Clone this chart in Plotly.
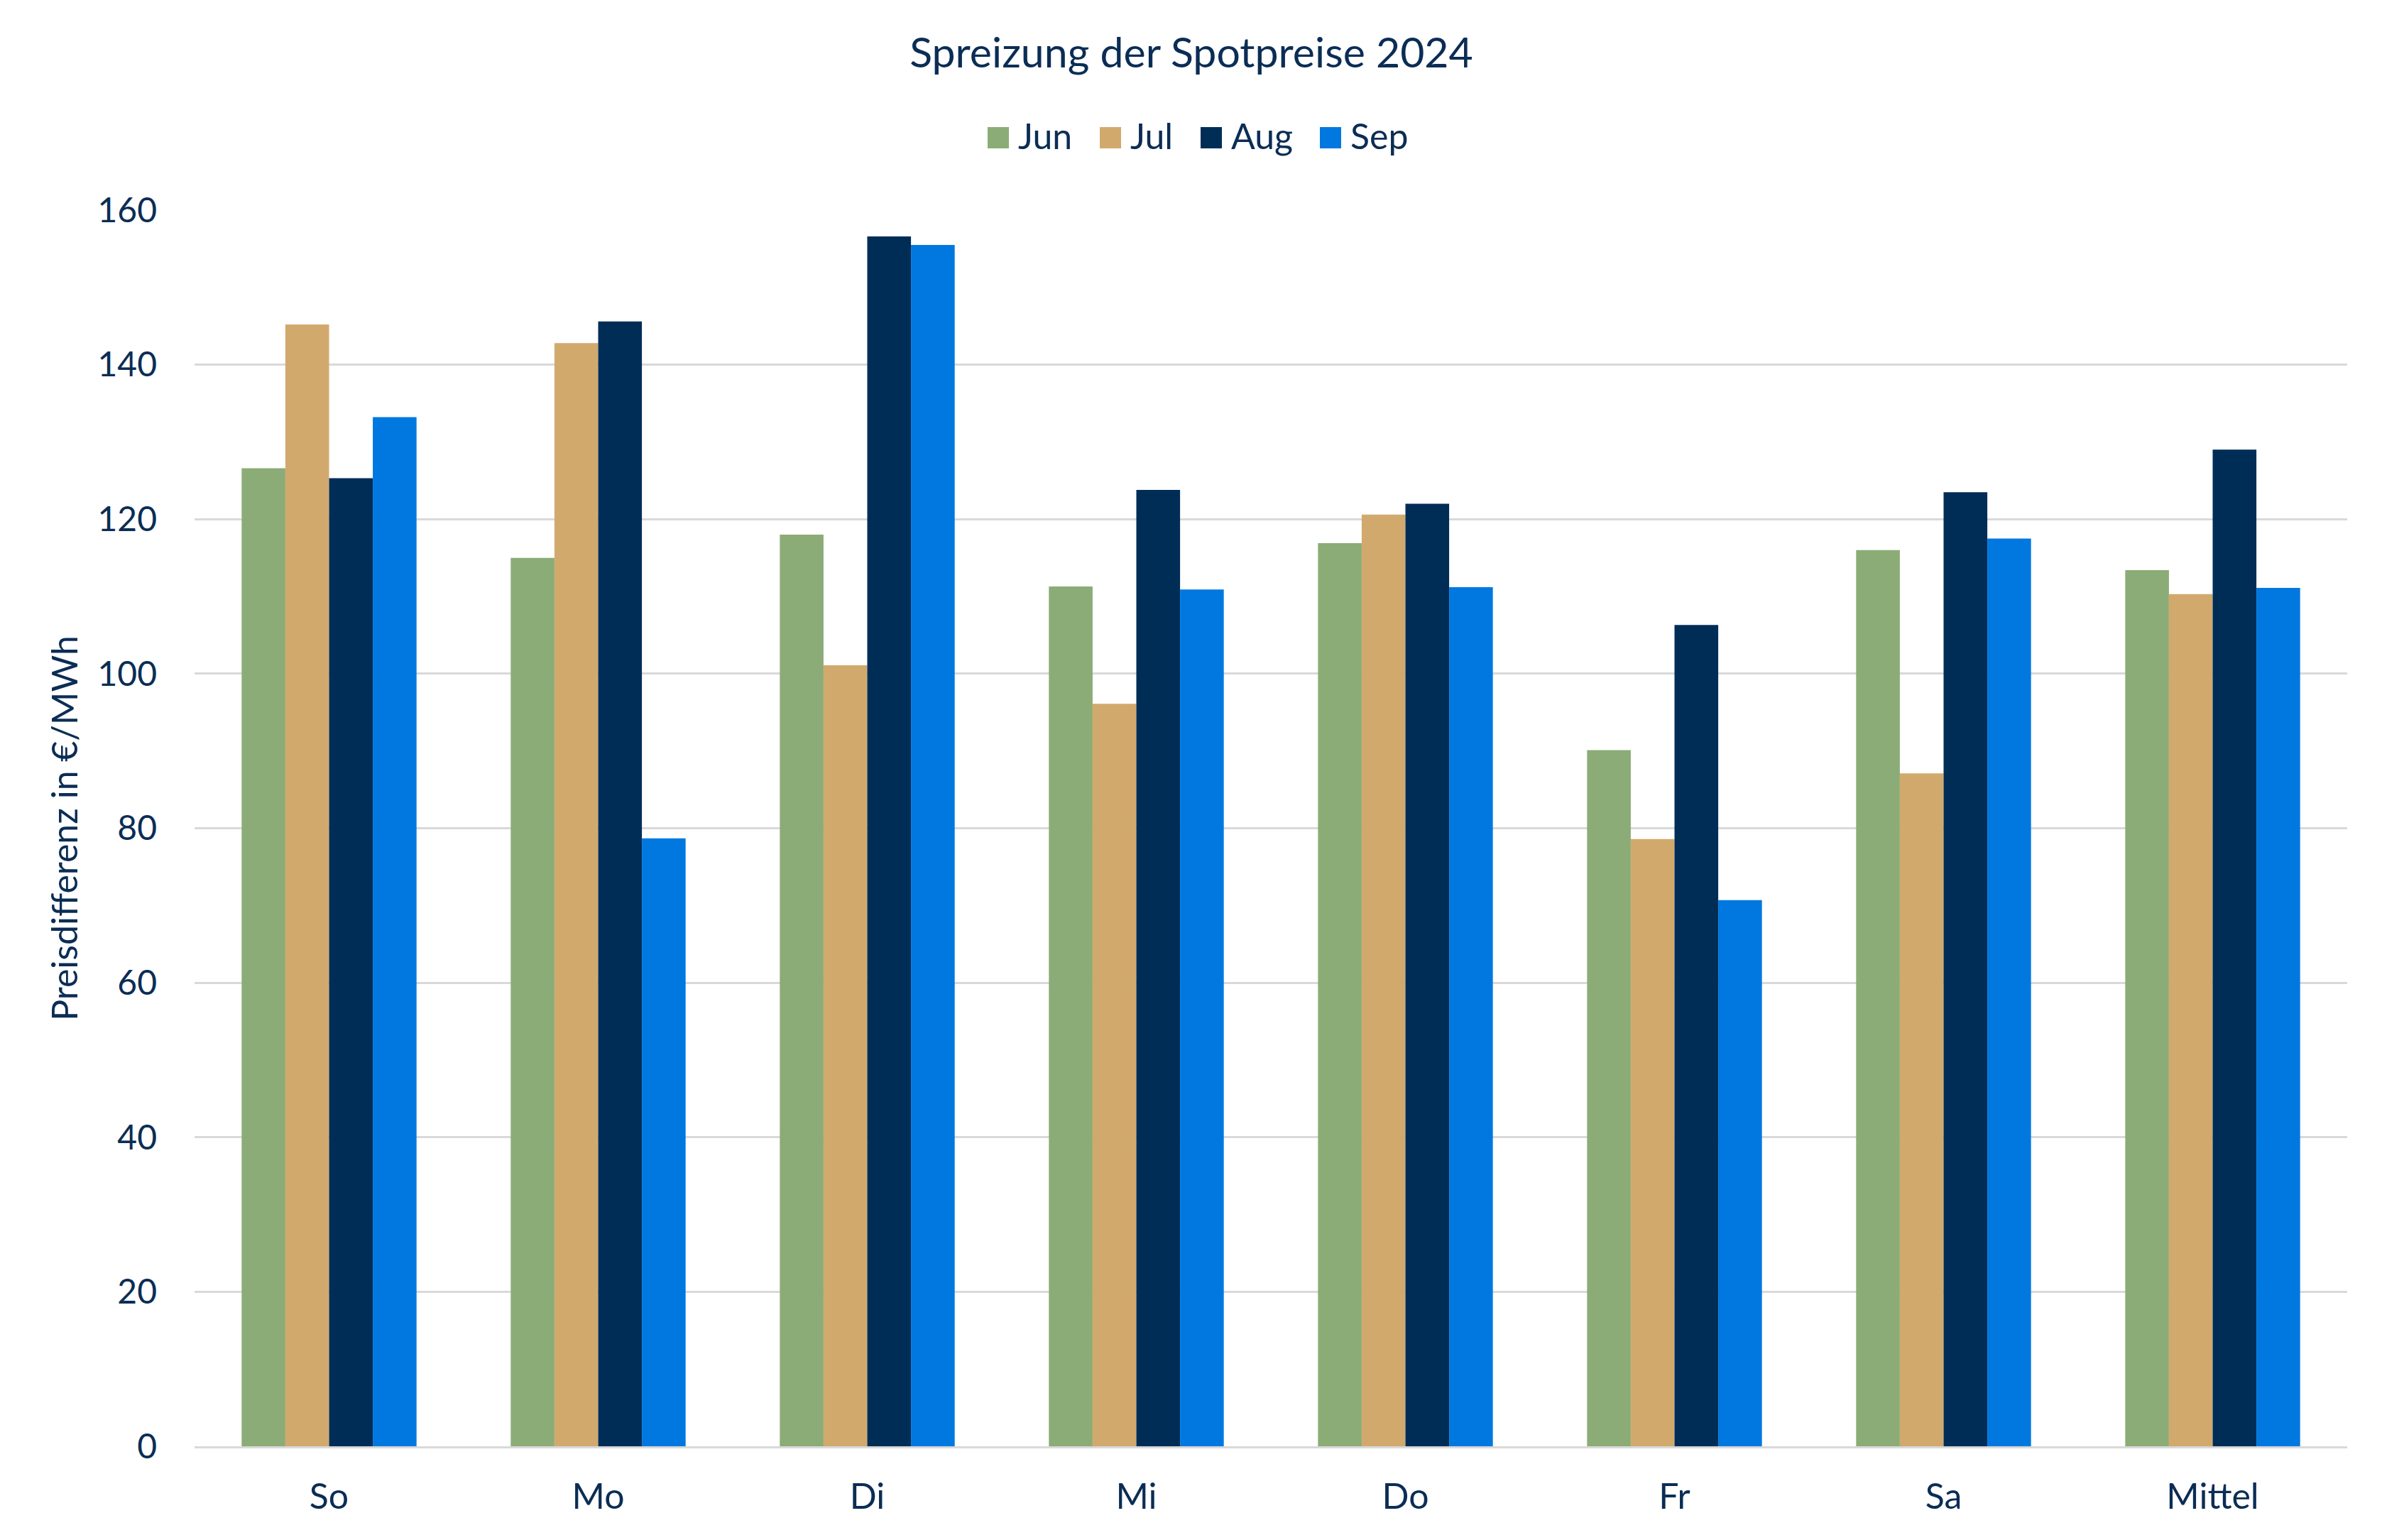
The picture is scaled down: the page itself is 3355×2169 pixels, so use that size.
import plotly.graph_objects as go

categories = ["So", "Mo", "Di", "Mi", "Do", "Fr", "Sa", "Mittel"]
jun = [126.6, 115.0, 118.0, 111.3, 116.9, 90.1, 116.0, 113.4]
jul = [145.2, 142.8, 101.1, 96.1, 120.6, 78.6, 87.1, 110.3]
aug = [125.3, 145.6, 156.6, 123.8, 122.0, 106.3, 123.5, 129.0]
sep = [133.2, 78.7, 155.5, 110.9, 111.2, 70.7, 117.5, 111.1]
series_names = ["Jun", "Jul", "Aug", "Sep"]
colors = ["#8BAC76", "#D2A96D", "#002D56", "#0078E0"]
y_ticks = [0, 20, 40, 60, 80, 100, 120, 140, 160]

TEXT = "#0B2D55"
FONT = "Lato"
W, H = 3355, 2169
ML, MR, MT, MB = 266, 57, 288, 140
OFF = 8  # page body margin offset

fig = go.Figure()
for name, vals, col in zip(series_names, [jun, jul, aug, sep], colors):
    fig.add_trace(go.Bar(name=name, x=categories, y=vals, marker_color=col,
                         marker_line_width=0, showlegend=False))

# custom legend (large square swatches) placed above the plot area
def px_x(p):
    return (p - OFF - ML) / (W - ML - MR)

def px_y(p):
    return (H - MB - (p - OFF)) / (H - MT - MB)

legend_swatch_left = [1391, 1549, 1691, 1859]
SW = 30
SQ_Y = 194
TXT_Y = 191
shapes = []
annotations = []
for name, col, x0 in zip(series_names, colors, legend_swatch_left):
    shapes.append(dict(type="rect", xref="paper", yref="paper",
                       x0=px_x(x0), x1=px_x(x0 + SW),
                       y0=px_y(SQ_Y + SW / 2), y1=px_y(SQ_Y - SW / 2),
                       fillcolor=col, line=dict(width=0)))
    annotations.append(dict(text=name, xref="paper", yref="paper",
                            x=px_x(x0 + SW + 11), y=px_y(TXT_Y),
                            xanchor="left", yanchor="middle", showarrow=False,
                            font=dict(family=FONT, size=50, color=TEXT)))

fig.update_layout(
    width=W, height=H,
    paper_bgcolor="white", plot_bgcolor="white",
    margin=dict(l=ML, r=MR, t=MT, b=MB),
    barmode="group", bargap=0.35, bargroupgap=0,
    font=dict(family=FONT, color=TEXT, size=48),
    title=dict(text="Spreizung der Spotpreise 2024", x=(1678 - OFF) / W, xanchor="center",
               y=1 - 66 / H, yanchor="middle",
               font=dict(family=FONT, size=59, color=TEXT)),
    showlegend=False,
    shapes=shapes,
    annotations=annotations,
)
fig.update_yaxes(range=[0, 160], tickvals=y_ticks, showgrid=True, gridcolor="#D9D9D9",
                 gridwidth=2.5, zeroline=False, showline=False, ticks="",
                 ticklabelstandoff=52,
                 tickfont=dict(family=FONT, size=48, color=TEXT),
                 title=dict(text="Preisdifferenz in €/MWh", standoff=11,
                            font=dict(family=FONT, size=50, color=TEXT)))
fig.update_xaxes(showline=True, linecolor="#D9D9D9", linewidth=3, ticks="",
                 ticklabelstandoff=25,
                 tickfont=dict(family=FONT, size=50, color=TEXT))

fig.write_html("out.html")
